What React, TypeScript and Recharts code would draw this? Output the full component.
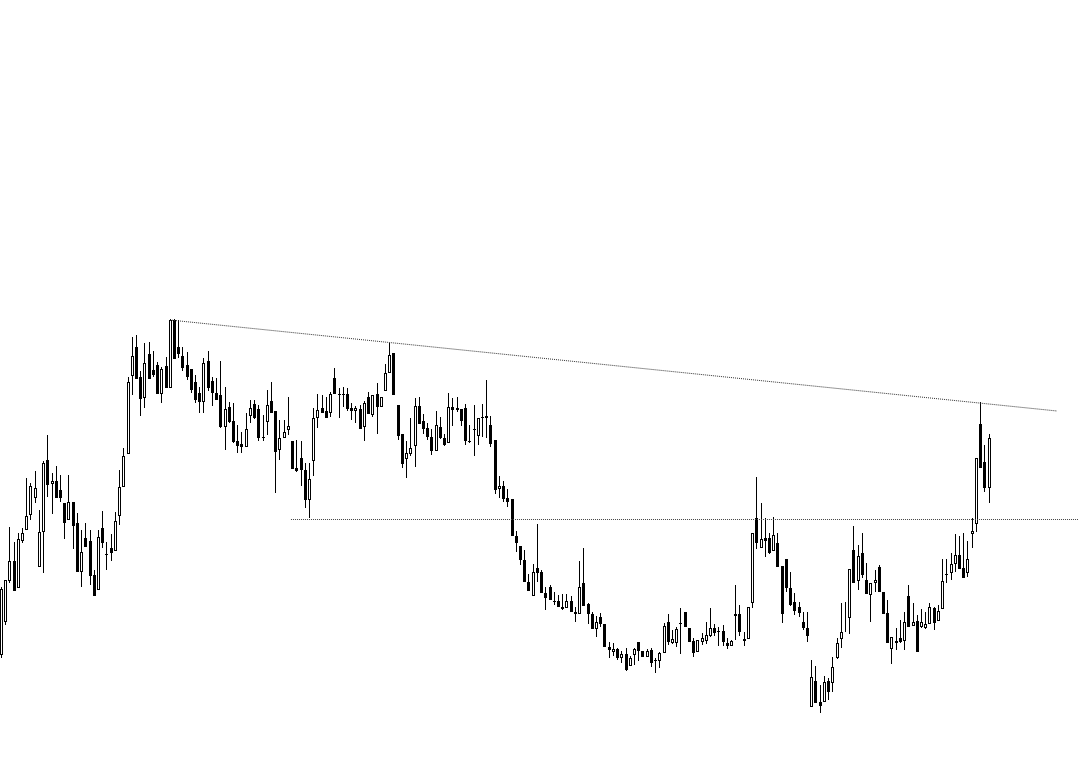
import { ComposedChart, Bar, XAxis, YAxis, ReferenceLine } from 'recharts'

// candle readings, top of chart = 0 (screen rows); converted to price below
const OPEN_Y = [
  655, 622, 581, 561, 588, 541, 530, 515, 498, 567,
  532, 460, 484, 481, 490, 503, 520, 502, 523, 572,
  538, 541, 575, 590, 528, 554, 548, 551, 516, 487,
  454, 376, 347, 377, 398, 354, 370, 365, 394, 366,
  388, 320, 347, 356, 365, 369, 382, 393, 402, 361,
  381, 393, 395, 427, 407, 421, 441, 444, 447, 416,
  404, 409, 437, 422, 401, 411, 450, 438, 430, 441,
  468, 458, 470, 500, 461, 418, 408, 411, 413, 378,
  394, 394, 394, 408, 411, 409, 427, 397, 415, 394,
  407, 391, 373, 353, 405, 434, 459, 454, 446, 406,
  421, 428, 437, 451, 427, 438, 443, 407, 408, 409,
  408, 441, 429, 436, 417, 416, 425, 440, 489, 486,
  498, 499, 536, 546, 560, 582, 596, 568, 572, 593,
  587, 601, 601, 607, 608, 601, 612, 614, 583, 604,
  614, 629, 617, 624, 647, 652, 649, 658, 654, 666,
  655, 642, 651, 657, 650, 660, 661, 653, 622, 643,
  643, 623, 612, 628, 641, 652, 642, 641, 636, 628,
  631, 631, 643, 646, 616, 614, 639, 639, 603, 518,
  548, 538, 538, 551, 543, 566, 559, 588, 602, 607,
  622, 628, 707, 681, 702, 702, 681, 683, 658, 639,
  622, 618, 550, 581, 553, 580, 595, 583, 567, 592,
  613, 649, 643, 638, 641, 596, 626, 621, 627, 628,
  624, 608, 621, 609, 574, 573, 564, 555, 568, 573,
  534, 524, 424, 462, 488,
]

const CLOSE_Y = [
  589, 580, 561, 591, 539, 533, 516, 486, 488, 532,
  463, 485, 481, 498, 498, 523, 502, 526, 572, 552,
  547, 576, 596, 537, 543, 554, 553, 521, 487, 456,
  382, 356, 379, 399, 363, 379, 375, 394, 369, 388,
  320, 359, 354, 368, 377, 390, 400, 402, 363, 388,
  393, 400, 427, 409, 422, 442, 446, 447, 429, 408,
  418, 438, 437, 405, 413, 452, 438, 432, 426, 469,
  471, 470, 500, 479, 418, 410, 413, 418, 394, 394,
  394, 394, 409, 411, 408, 429, 403, 414, 395, 407,
  397, 373, 355, 395, 436, 464, 453, 448, 406, 424,
  429, 437, 451, 425, 438, 445, 407, 410, 410, 421,
  441, 441, 430, 418, 417, 418, 444, 490, 486, 499,
  502, 536, 543, 560, 582, 591, 572, 573, 593, 598,
  600, 601, 607, 609, 601, 612, 614, 587, 606, 614,
  629, 622, 624, 647, 650, 649, 658, 654, 670, 658,
  649, 651, 657, 651, 663, 661, 653, 626, 642, 639,
  629, 623, 627, 642, 653, 640, 638, 635, 628, 633,
  631, 642, 646, 641, 614, 632, 641, 607, 533, 543,
  539, 541, 553, 535, 567, 614, 588, 605, 611, 613,
  628, 636, 677, 703, 706, 682, 692, 667, 643, 632,
  621, 569, 583, 556, 575, 594, 583, 580, 592, 614,
  643, 637, 641, 642, 622, 627, 622, 652, 622, 624,
  607, 623, 611, 581, 574, 564, 555, 569, 578, 559,
  531, 458, 468, 488, 438,
]

const HIGH_Y = [
  587, 580, 527, 542, 533, 528, 478, 483, 471, 510,
  461, 435, 473, 466, 475, 503, 475, 502, 513, 530,
  523, 530, 570, 530, 511, 542, 534, 512, 470, 448,
  377, 337, 335, 371, 343, 342, 351, 362, 367, 357,
  319, 319, 320, 347, 352, 369, 375, 387, 358, 351,
  377, 378, 361, 387, 402, 403, 425, 432, 413, 400,
  400, 405, 415, 390, 382, 411, 420, 420, 397, 441,
  440, 441, 463, 463, 408, 394, 395, 397, 392, 368,
  388, 387, 388, 403, 406, 405, 401, 392, 395, 383,
  397, 364, 343, 353, 405, 434, 441, 418, 398, 397,
  414, 423, 429, 411, 417, 434, 393, 398, 397, 409,
  404, 425, 405, 418, 404, 380, 416, 440, 476, 481,
  489, 499, 531, 546, 550, 574, 564, 524, 570, 587,
  585, 592, 595, 594, 594, 596, 607, 561, 548, 603,
  612, 616, 613, 624, 642, 643, 648, 651, 648, 656,
  648, 642, 651, 649, 648, 658, 652, 623, 614, 630,
  627, 608, 612, 628, 638, 640, 633, 622, 608, 624,
  627, 625, 638, 640, 585, 605, 632, 607, 533, 477,
  503, 518, 533, 517, 533, 566, 559, 572, 593, 602,
  612, 612, 660, 666, 685, 676, 678, 657, 638, 603,
  602, 569, 526, 545, 533, 563, 583, 570, 565, 592,
  600, 637, 628, 620, 612, 585, 603, 615, 609, 612,
  603, 607, 605, 559, 559, 553, 534, 536, 533, 541,
  518, 458, 402, 445, 434,
]

const LOW_Y = [
  658, 625, 583, 591, 588, 543, 530, 520, 503, 567,
  573, 497, 514, 498, 502, 539, 520, 549, 572, 587,
  547, 585, 596, 590, 548, 570, 561, 551, 525, 487,
  454, 395, 379, 416, 408, 379, 377, 394, 403, 388,
  388, 359, 358, 371, 380, 393, 403, 413, 413, 391,
  406, 400, 428, 450, 423, 443, 453, 453, 447, 423,
  419, 441, 441, 435, 413, 493, 460, 438, 435, 469,
  472, 486, 508, 518, 476, 428, 413, 418, 417, 394,
  418, 407, 411, 420, 423, 429, 441, 414, 417, 434,
  407, 391, 373, 395, 440, 468, 478, 456, 467, 424,
  434, 440, 455, 451, 439, 446, 443, 426, 412, 426,
  445, 443, 456, 445, 437, 438, 447, 494, 498, 502,
  507, 536, 552, 565, 582, 591, 596, 582, 593, 610,
  600, 605, 607, 610, 608, 612, 622, 614, 606, 624,
  629, 637, 627, 647, 658, 656, 660, 663, 671, 666,
  665, 661, 657, 657, 667, 673, 668, 653, 645, 644,
  647, 654, 627, 642, 657, 652, 645, 644, 637, 636,
  646, 646, 649, 646, 640, 636, 646, 639, 608, 549,
  548, 557, 554, 551, 567, 623, 592, 606, 615, 617,
  630, 642, 707, 703, 713, 702, 700, 692, 659, 648,
  632, 634, 583, 590, 578, 594, 622, 592, 592, 614,
  643, 664, 650, 643, 650, 627, 626, 652, 628, 629,
  624, 630, 621, 609, 583, 580, 572, 569, 578, 577,
  548, 532, 468, 492, 503,
]

const W = 1084
const H = 764
const toPrice = (row: number) => H - row

// drawn lines: descending resistance and horizontal support
const TREND = [{ x: 40.04, y: toPrice(320) }, { x: 250.2, y: toPrice(411) }]
const SUPPORT = [{ x: 68.7, y: toPrice(519.5) }, { x: 255.2, y: toPrice(519.5) }]

const rows = OPEN_Y.map((o, i) => ({
  i,
  open: toPrice(o),
  close: toPrice(CLOSE_Y[i]),
  high: toPrice(HIGH_Y[i]),
  low: toPrice(LOW_Y[i]),
}))

function Candle(props: any) {
  const { x, y, width, height, payload } = props
  const { open, close, high, low } = payload
  const k = height / (high - low)
  const py = (v: number) => Math.round(y + (high - v) * k)
  const c = Math.floor(x + width / 2)
  const top = py(Math.max(open, close))
  const bot = py(Math.min(open, close))
  const up = close > open
  return (
    <g shapeRendering="crispEdges">
      <line x1={c + 0.5} x2={c + 0.5} y1={py(high)} y2={py(low)} stroke="#000" strokeWidth={1} />
      {up ? (
        <rect x={c - 0.5} y={top + 0.5} width={2} height={Math.max(bot - top - 1, 0)} fill="#fff" stroke="#000" strokeWidth={1} />
      ) : (
        <rect x={c - 1} y={top} width={3} height={Math.max(bot - top, 1)} fill="#000" />
      )}
    </g>
  )
}

export default function App() {
  return (
    <div style={{ position: 'absolute', left: 0, top: 0, width: W, height: H, background: '#fff' }}>
      <ComposedChart width={W} height={H} data={rows} margin={{ top: 0, right: 0, bottom: 0, left: 0 }}>
        <XAxis dataKey="i" type="number" domain={[-0.24, 256.6]} hide />
        <YAxis type="number" domain={[0, H]} hide allowDataOverflow />
        <ReferenceLine segment={TREND} stroke="#333" strokeDasharray="1 1" strokeWidth={1} />
        <ReferenceLine segment={SUPPORT} stroke="#444" strokeDasharray="1 1" strokeWidth={1} />
        <Bar dataKey={(d: any) => [d.low, d.high]} barSize={3} shape={Candle} isAnimationActive={false} />
      </ComposedChart>
    </div>
  )
}
